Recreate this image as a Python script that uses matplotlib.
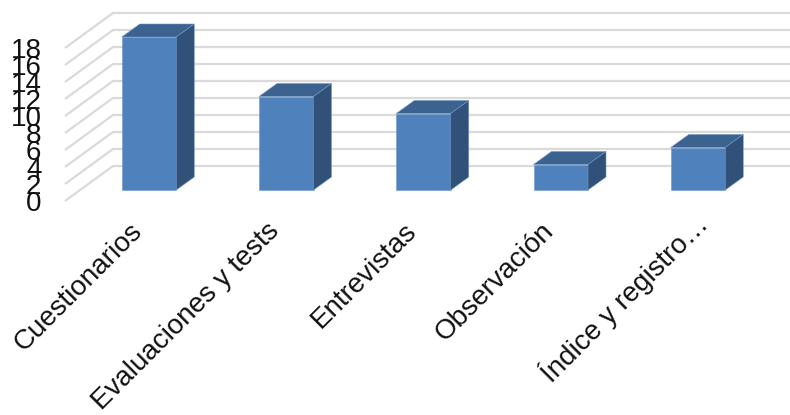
import numpy as np
import matplotlib
matplotlib.use('Agg')
import matplotlib.pyplot as plt
from matplotlib.patches import Polygon
from matplotlib.transforms import ScaledTranslation

categories = ['Cuestionarios', 'Evaluaciones y tests', 'Entrevistas', 'Observación', 'Índice y registro…']
values = [18, 11, 9, 3, 5]
y_ticks = [0, 2, 4, 6, 8, 10, 12, 14, 16, 18]

plt.rcParams['font.family'] = ['Liberation Sans', 'DejaVu Sans']

W, H = 790, 415
px_per_cat = 137.25
px_per_val = 8.5
x0_px = 149      # centre of first bar
y0_px = 190      # front base of the bars
bar_w = 54.5 / px_per_cat
dx = 18 / px_per_cat
dy = 13 / px_per_val
floor_off = 11 / px_per_val   # front of the floor sits below the bars

fig = plt.figure(figsize=(W / 100, H / 100), dpi=100)
left, right, top, bottom = 65, 790, 13, 201
ax = fig.add_axes([left / W, 1 - bottom / H, (right - left) / W, (bottom - top) / H])
ax.set_xlim((left - x0_px) / px_per_cat, (right - x0_px) / px_per_cat)
ax.set_ylim((y0_px - bottom) / px_per_val, (y0_px - top) / px_per_val)
for s in ax.spines.values():
    s.set_visible(False)

# gridlines: slanted side wall + back wall
x_front = ax.get_xlim()[0]
x_back = x_front + 48 / px_per_cat
rise = 35 / px_per_val
for v in y_ticks:
    ax.plot([x_front, x_back, ax.get_xlim()[1]],
            [v - floor_off, v - floor_off + rise, v - floor_off + rise],
            color='#dadada', lw=1.6, zorder=1, solid_capstyle='butt', clip_on=False)

edge = '#6f97c9'
for i, v in enumerate(values):
    l, r = i - bar_w / 2, i + bar_w / 2
    ax.add_patch(Polygon([(l, 0), (r, 0), (r, v), (l, v)], fc='#4f81bd', ec=edge, lw=0.4, zorder=3))
    ax.add_patch(Polygon([(l, v), (r, v), (r + dx, v + dy), (l + dx, v + dy)], fc='#3c6290', ec=edge, lw=0.4, zorder=3))
    ax.add_patch(Polygon([(r, 0), (r + dx, dy), (r + dx, v + dy), (r, v)], fc='#325179', ec=edge, lw=0.4, zorder=3))

ax.set_yticks([v - floor_off for v in y_ticks])
ax.set_yticklabels([str(v) for v in y_ticks], fontsize=20, color='#111111')
ax.set_xticks(range(len(categories)))
ax.set_xticklabels(categories, fontsize=20, color='#111111', rotation=45, ha='right', rotation_mode='anchor')
ax.tick_params(axis='y', length=0, pad=17)
ax.tick_params(axis='x', length=0, pad=12)

# category labels sit a bit left of their bars, the cut-off last one less so
for i, lab in enumerate(ax.get_xticklabels()):
    sx, sy = (-5, 9) if i == len(categories) - 1 else (-20, 0)
    lab.set_transform(lab.get_transform() + ScaledTranslation(sx / 100, sy / 100, fig.dpi_scale_trans))

fig.savefig('out.png', dpi=100)
